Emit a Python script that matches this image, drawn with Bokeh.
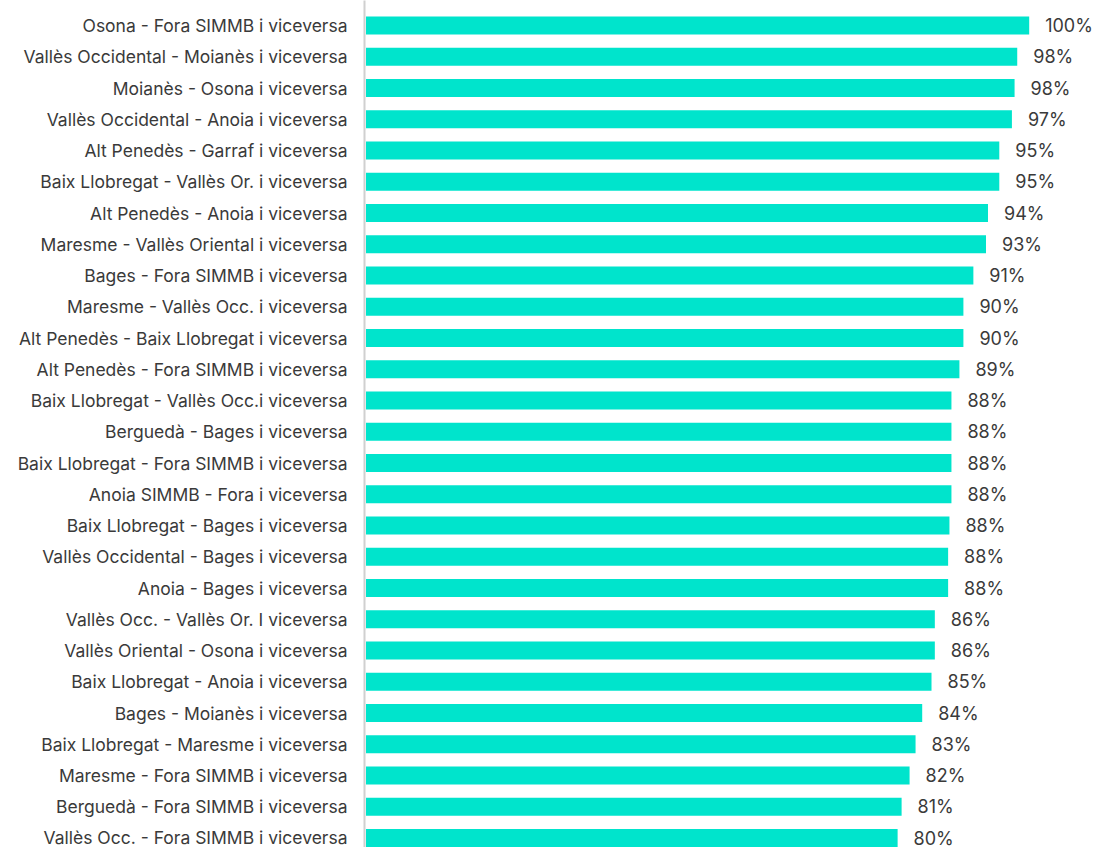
from bokeh.plotting import figure
from bokeh.models import Range1d, FixedTicker, ColumnDataSource
from bokeh.embed import file_html
from bokeh.resources import INLINE
from bokeh.core.properties import value

categories = [
    "Osona - Fora SIMMB i viceversa",
    "Vallès Occidental - Moianès i viceversa",
    "Moianès - Osona i viceversa",
    "Vallès Occidental - Anoia i viceversa",
    "Alt Penedès - Garraf i viceversa",
    "Baix Llobregat - Vallès Or. i viceversa",
    "Alt Penedès - Anoia i viceversa",
    "Maresme - Vallès Oriental i viceversa",
    "Bages - Fora SIMMB i viceversa",
    "Maresme - Vallès Occ. i viceversa",
    "Alt Penedès - Baix Llobregat i viceversa",
    "Alt Penedès - Fora SIMMB i viceversa",
    "Baix Llobregat - Vallès Occ.i viceversa",
    "Berguedà - Bages i viceversa",
    "Baix Llobregat - Fora SIMMB i viceversa",
    "Anoia SIMMB - Fora i viceversa",
    "Baix Llobregat - Bages i viceversa",
    "Vallès Occidental - Bages i viceversa",
    "Anoia - Bages i viceversa",
    "Vallès Occ. - Vallès Or. I viceversa",
    "Vallès Oriental - Osona i viceversa",
    "Baix Llobregat - Anoia i viceversa",
    "Bages - Moianès i viceversa",
    "Baix Llobregat - Maresme i viceversa",
    "Maresme - Fora SIMMB i viceversa",
    "Berguedà - Fora SIMMB i viceversa",
    "Vallès Occ. - Fora SIMMB i viceversa",
]

values = [
    99.8, 98.0, 97.6, 97.2, 95.3, 95.3, 93.6, 93.3, 91.4, 89.9,
    89.9, 89.3, 88.1, 88.1, 88.1, 88.1, 87.8, 87.6, 87.6, 85.6,
    85.6, 85.1, 83.7, 82.7, 81.8, 80.6, 80.0,
]

FONT = "Inter"
TEXT_COLOR = "#3a3a3a"
BAR_COLOR = "#00E4CC"

n = len(categories)
idx = list(range(n))
labels = [f"{v:.0f}%" for v in values]

src = ColumnDataSource(dict(y=idx, v=values, lbl=labels))

p = figure(
    width=1099, height=847,
    output_backend="svg", toolbar_location=None,
    x_range=Range1d(-0.226, 110.38),
    y_range=Range1d(26.304, -0.8),
    x_axis_location=None,
    min_border_left=364, min_border_right=0,
    min_border_top=0, min_border_bottom=0,
)

p.hbar(y="y", left=0, right="v", height=0.58, source=src,
       fill_color=BAR_COLOR, line_color=None)

p.text(x="v", y="y", text="lbl", source=src, x_offset=16,
       text_baseline="middle", text_align="left",
       text_font=value(FONT), text_font_size="18px", text_color=TEXT_COLOR)

ax = p.yaxis[0]
ax.ticker = FixedTicker(ticks=idx)
ax.major_label_overrides = {i: c for i, c in zip(idx, categories)}
ax.major_tick_line_color = None
ax.minor_tick_line_color = None
ax.axis_line_color = "#d0d0d0"
ax.axis_line_width = 2
ax.major_label_standoff = 11
ax.major_label_text_font = FONT
ax.major_label_text_font_size = "17.5px"
ax.major_label_text_color = TEXT_COLOR

p.xgrid.grid_line_color = None
p.ygrid.grid_line_color = None
p.outline_line_color = None
p.background_fill_color = "white"
p.border_fill_color = "white"

open("out.html", "w").write(file_html(p, INLINE))
